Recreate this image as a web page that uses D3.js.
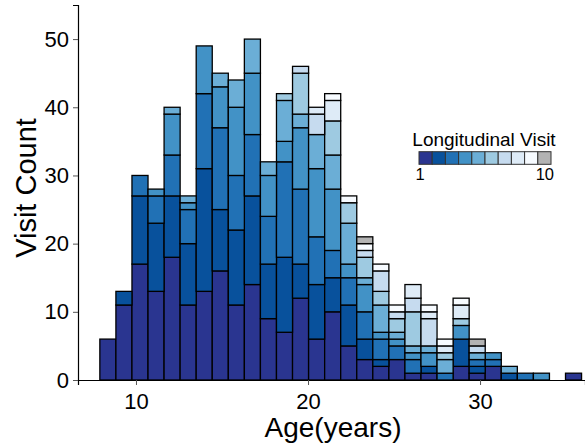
<!DOCTYPE html>
<html>
<head>
<meta charset="utf-8">
<script src="https://cdn.jsdelivr.net/npm/d3@7"></script>
<style>
  body { margin: 0; background: #fff; }
  text { font-family: "Liberation Sans", Arial, Helvetica, sans-serif; }
</style>
</head>
<body>
<svg id="chart" width="585" height="446"></svg>
<script>
// histogram bins (30 bins from 7.9 to 35.9 years)
const binStart = 7.9;
const binWidth = 28 / 30;

// counts per bin for each longitudinal visit
const visit1  = [6,11,17,13,18,11,13,16,11,14,9,7,12,6,10,5,3,2,3,1,1,0,2,1,2,0,0,0,0,1];
const visit2  = [0,2,10,10,9,9,18,9,11,13,8,11,5,8,5,6,3,1,0,0,1,0,4,1,0,1,0,0,0,0];
const visit3  = [0,0,3,4,6,5,11,12,8,9,7,14,11,7,4,4,4,3,2,2,0,1,0,1,1,0,1,0,0,0];
const visit4  = [0,0,0,1,6,1,7,6,10,9,6,3,9,10,9,2,4,1,1,1,2,0,2,0,1,0,0,1,0,0];
const visit5  = [0,0,0,0,1,1,0,2,4,5,2,6,2,5,5,6,1,4,1,1,1,2,0,1,0,1,0,0,0,0];
const visit6  = [0,0,0,0,0,0,0,0,0,0,0,1,6,0,5,3,3,2,2,5,0,1,1,0,0,0,0,0,0,0];
const visit7  = [0,0,0,0,0,0,0,0,0,0,0,0,1,3,0,0,1,3,1,2,4,0,0,1,0,0,0,0,0,0];
const visit8  = [0,0,0,0,0,0,0,0,0,0,0,0,0,1,3,0,0,0,0,2,1,1,2,0,0,0,0,0,0,0];
const visit9  = [0,0,0,0,0,0,0,0,0,0,0,0,0,0,1,1,1,1,1,0,1,1,1,0,0,0,0,0,0,0];
const visit10 = [0,0,0,0,0,0,0,0,0,0,0,0,0,0,0,0,1,0,0,0,0,0,0,1,0,0,0,0,0,0];

const visits = [visit1, visit2, visit3, visit4, visit5, visit6, visit7, visit8, visit9, visit10];
const visitKeys = ["1","2","3","4","5","6","7","8","9","10"];
const colors = ["#2a3590","#08519c","#2171b5","#4292c6","#6baed6","#9ecae1","#c6dbef","#deebf7","#f7fbff","#b3b3b3"];

const xTicks = [10, 20, 30];
const yTicks = [0, 10, 20, 30, 40, 50];

const svg = d3.select("#chart");

const x = d3.scaleLinear().domain([6.63, 36.1]).range([78, 585]);
const y = d3.scaleLinear().domain([0, 55]).range([380, 5]);

// table for d3.stack
const table = visit1.map((_, i) => {
  const row = { x0: binStart + i * binWidth, x1: binStart + (i + 1) * binWidth };
  visits.forEach((v, k) => { row[visitKeys[k]] = v[i]; });
  return row;
});

const series = d3.stack().keys(visitKeys)(table);

const color = d3.scaleOrdinal().domain(visitKeys).range(colors);

//绘制柱子
svg.append("g")
  .selectAll("g")
  .data(series)
  .join("g")
  .attr("fill", d => color(d.key))
  .selectAll("rect")
  .data(d => d.filter(s => s[1] - s[0] > 0))
  .join("rect")
  .attr("x", d => x(d.data.x0))
  .attr("width", d => x(d.data.x1) - x(d.data.x0))
  .attr("y", d => y(d[1]))
  .attr("height", d => y(d[0]) - y(d[1]))
  .attr("stroke", "#000")
  .attr("stroke-width", 1.3);

//坐标轴
const xAxis = svg.append("g")
  .attr("transform", "translate(0,380)")
  .call(d3.axisBottom(x).tickValues(xTicks).tickSize(5).tickPadding(8).tickFormat(d3.format("d")));
xAxis.select(".domain").attr("stroke", "#000").attr("stroke-width", 1.2);
xAxis.selectAll(".tick line").attr("stroke", "#555");
xAxis.selectAll(".tick text").attr("font-size", 22).attr("fill", "#000")
  .style("font-family", '"Liberation Sans", Arial, sans-serif');

const yAxis = svg.append("g")
  .attr("transform", "translate(78,0)")
  .call(d3.axisLeft(y).tickValues(yTicks).tickSize(5).tickPadding(4).tickFormat(d3.format("d")));
yAxis.select(".domain").attr("stroke", "#000").attr("stroke-width", 1.2);
yAxis.selectAll(".tick line").attr("stroke", "#555");
yAxis.selectAll(".tick text").attr("font-size", 22).attr("fill", "#000")
  .style("font-family", '"Liberation Sans", Arial, sans-serif');

//坐标轴标题
svg.append("text")
  .attr("x", 333)
  .attr("y", 437)
  .attr("text-anchor", "middle")
  .attr("font-size", 28)
  .text("Age(years)");

svg.append("text")
  .attr("transform", "translate(36,188) rotate(-90)")
  .attr("text-anchor", "middle")
  .attr("font-size", 29)
  .text("Visit Count");

//图例
const lg = svg.append("g");
const swW = 13.2, swH = 12.6, swX = 419, swY = 151.7;

lg.append("text")
  .attr("x", 484)
  .attr("y", 146)
  .attr("text-anchor", "middle")
  .attr("font-size", 19)
  .text("Longitudinal Visit");

lg.selectAll("rect")
  .data(visitKeys)
  .join("rect")
  .attr("x", (d, i) => swX + i * swW)
  .attr("y", swY)
  .attr("width", swW)
  .attr("height", swH)
  .attr("fill", d => color(d))
  .attr("stroke", "#333")
  .attr("stroke-width", 1);

lg.append("text")
  .attr("x", 420)
  .attr("y", 180)
  .attr("text-anchor", "middle")
  .attr("font-size", 16.5)
  .text("1");

lg.append("text")
  .attr("x", 554)
  .attr("y", 180)
  .attr("text-anchor", "end")
  .attr("font-size", 16.5)
  .text("10");
</script>
</body>
</html>
